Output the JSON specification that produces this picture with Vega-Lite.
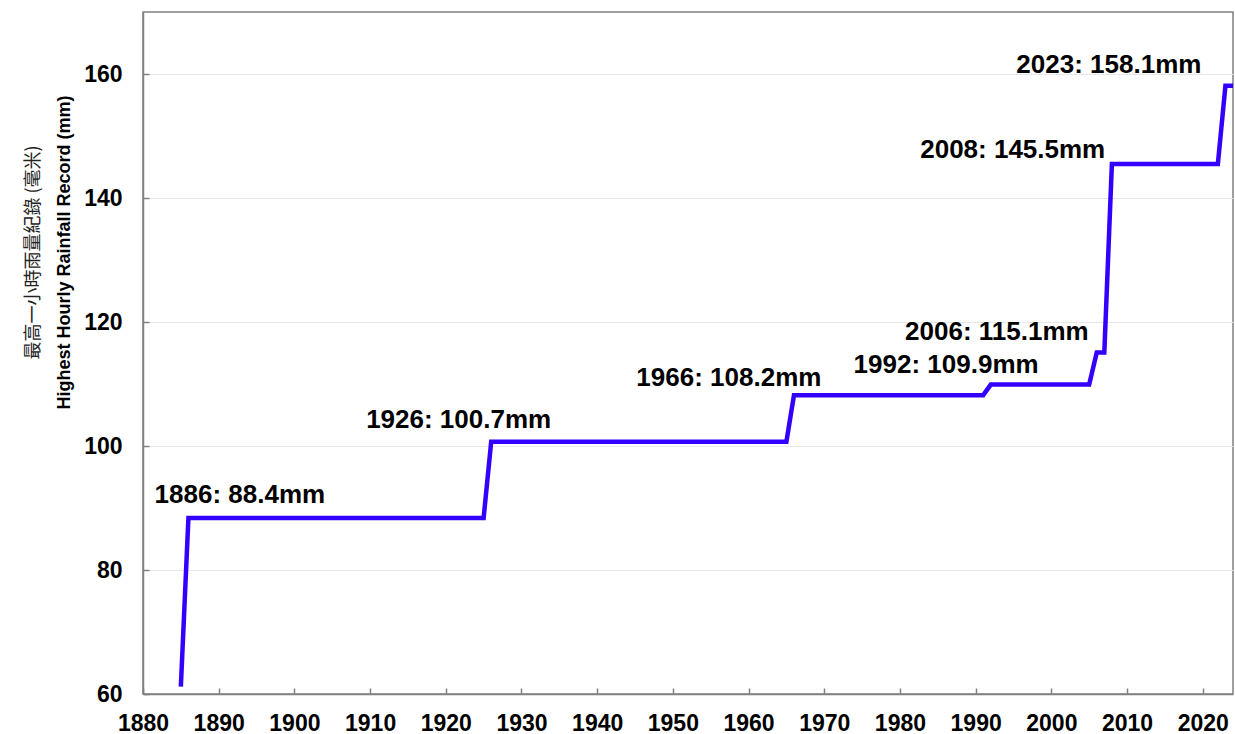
{
  "$schema": "https://vega.github.io/schema/vega-lite/v6.json",
  "autosize": {"type": "none"},
  "width": 1090,
  "height": 682,
  "padding": {"left": 143, "top": 12, "right": 2, "bottom": 40},
  "background": "white",
  "config": {
    "view": {"stroke": "#808080", "strokeWidth": 1.5},
    "font": "Liberation Sans",
    "axis": {
      "labelFont": "Liberation Sans",
      "labelFontWeight": "bold",
      "labelFontSize": 23,
      "labelColor": "#000000",
      "domainColor": "#808080",
      "domainWidth": 1.5,
      "tickColor": "#808080",
      "tickWidth": 1.5,
      "gridColor": "#e6e6e6",
      "gridWidth": 1
    }
  },
  "datasets": {
    "series": [
      {"year": 1885, "rainfall": 61.2},
      {"year": 1886, "rainfall": 88.4},
      {"year": 1925, "rainfall": 88.4},
      {"year": 1926, "rainfall": 100.7},
      {"year": 1965, "rainfall": 100.7},
      {"year": 1966, "rainfall": 108.2},
      {"year": 1991, "rainfall": 108.2},
      {"year": 1992, "rainfall": 109.9},
      {"year": 2005, "rainfall": 109.9},
      {"year": 2006, "rainfall": 115.1},
      {"year": 2007, "rainfall": 115.1},
      {"year": 2008, "rainfall": 145.5},
      {"year": 2022, "rainfall": 145.5},
      {"year": 2023, "rainfall": 158.1},
      {"year": 2024, "rainfall": 158.1}
    ],
    "labels": [
      {"label": "1886: 88.4mm", "labelYear": 1892.8, "labelValue": 90.8},
      {"label": "1926: 100.7mm", "labelYear": 1921.7, "labelValue": 102.9},
      {"label": "1966: 108.2mm", "labelYear": 1957.4, "labelValue": 109.7},
      {"label": "1992: 109.9mm", "labelYear": 1986.1, "labelValue": 111.8},
      {"label": "2006: 115.1mm", "labelYear": 1992.8, "labelValue": 117.1},
      {"label": "2008: 145.5mm", "labelYear": 1994.9, "labelValue": 146.45},
      {"label": "2023: 158.1mm", "labelYear": 2007.6, "labelValue": 160.16}
    ]
  },
  "layer": [
    {
      "data": {"name": "series"},
      "mark": {"type": "line", "color": "#3300ff", "strokeWidth": 4.5, "strokeJoin": "miter", "clip": true},
      "encoding": {
        "x": {
          "field": "year", "type": "quantitative",
          "scale": {"domain": [1880, 2024], "nice": false, "zero": false},
          "axis": {"title": null, "values": [1880, 1890, 1900, 1910, 1920, 1930, 1940, 1950, 1960, 1970, 1980, 1990, 2000, 2010, 2020], "format": "d", "grid": false, "tickSize": -6, "labelPadding": 24, "labelFlush": false, "labelOverlap": false}
        },
        "y": {
          "field": "rainfall", "type": "quantitative",
          "scale": {"domain": [60, 170], "nice": false, "zero": false},
          "axis": {
            "orient": "left",
            "title": "Highest Hourly Rainfall Record (mm)",
            "titleFont": "Liberation Sans", "titleFontWeight": "bold", "titleFontSize": 18, "titleColor": "#000000",
            "titlePadding": 10, "titleY": 240,
            "values": [60, 80, 100, 120, 140, 160], "grid": true, "tickSize": -6, "labelPadding": 27
          }
        }
      }
    },
    {
      "data": {"name": "labels"},
      "mark": {"type": "text", "font": "Liberation Sans", "fontWeight": "bold", "fontSize": 26, "color": "#000000", "align": "center", "baseline": "alphabetic"},
      "encoding": {
        "x": {"field": "labelYear", "type": "quantitative"},
        "y": {
          "field": "labelValue", "type": "quantitative",
          "axis": {
            "orient": "left",
            "title": "最高一小時雨量紀錄 (毫米)",
            "titleFont": "Noto Sans CJK TC", "titleFontWeight": "normal", "titleFontSize": 18, "titleColor": "#222222",
            "labels": false, "ticks": false, "domain": false, "grid": false, "titlePadding": 101, "titleY": 240
          }
        },
        "text": {"field": "label"}
      }
    }
  ],
  "resolve": {"axis": {"y": "independent"}}
}
